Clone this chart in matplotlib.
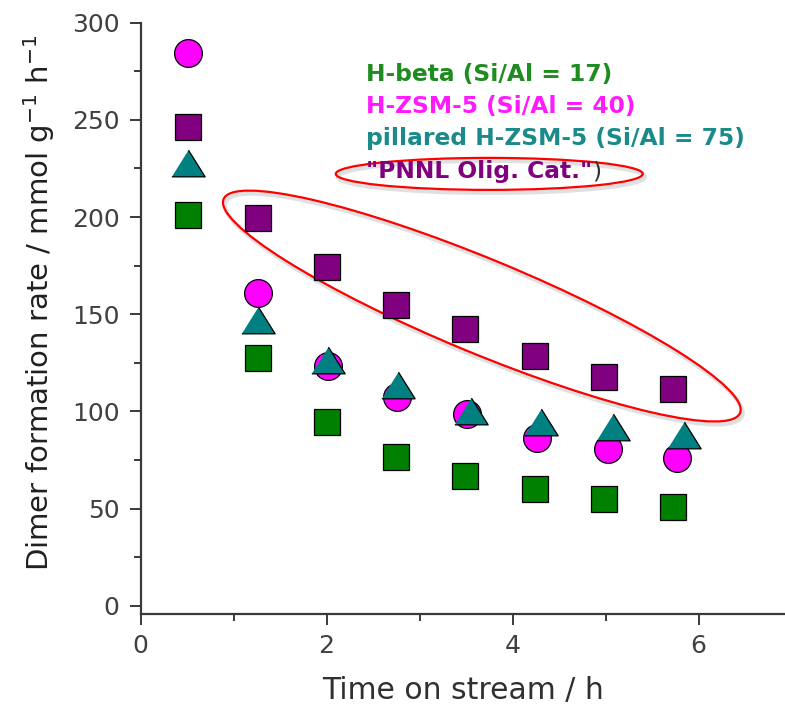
import matplotlib.pyplot as plt
import matplotlib.transforms as mtransforms
from matplotlib.patches import Ellipse
from matplotlib.ticker import MultipleLocator

# данные
t_beta = [0.51, 1.26, 2.00, 2.75, 3.49, 4.24, 4.98, 5.73]
r_beta = [201.1, 127.3, 94.4, 76.6, 66.9, 60.1, 54.9, 51.0]

t_zsm = [0.51, 1.26, 2.02, 2.76, 3.51, 4.26, 5.03, 5.77]
r_zsm = [284.3, 160.8, 123.4, 107.6, 98.7, 86.2, 80.6, 75.9]

t_pill = [0.51, 1.26, 2.02, 2.77, 3.55, 4.31, 5.08, 5.84]
r_pill = [227.7, 147.0, 126.3, 113.4, 100.3, 94.7, 92.0, 88.0]

t_pnnl = [0.51, 1.26, 2.00, 2.75, 3.49, 4.24, 4.98, 5.73]
r_pnnl = [246.5, 199.7, 174.2, 154.8, 142.4, 128.7, 117.6, 111.4]

labels = ['H-beta (Si/Al = 17)', 'H-ZSM-5 (Si/Al = 40)',
          'pillared H-ZSM-5 (Si/Al = 75)', '"PNNL Olig. Cat."']
text_colors = ['#1e8c1e', '#ff1aff', '#1a8a8a', '#800080']

fig = plt.figure(figsize=(7.85, 7.05), dpi=100)
ax = fig.add_axes([0.179, 0.1287, 0.821, 0.8391])

# широкий треугольник
tri = [(-1, -0.8), (1, -0.8), (0, 0.8)]
ax.plot(t_beta, r_beta, 's', ms=18.5, mfc='#008000', mec='black', mew=0.9, ls='none')
ax.plot(t_zsm, r_zsm, 'o', ms=20, mfc='#ff00ff', mec='black', mew=0.9, ls='none')
ax.plot(t_pill, r_pill, marker=tri, ms=24, mfc='#008080', mec='black', mew=0.9, ls='none')
ax.plot(t_pnnl, r_pnnl, 's', ms=18.5, mfc='#800080', mec='black', mew=0.9, ls='none')

ax.set_xlim(0, 6.93)
ax.set_ylim(-4.4, 300)
ax.xaxis.set_major_locator(MultipleLocator(2))
ax.xaxis.set_minor_locator(MultipleLocator(1))
ax.yaxis.set_major_locator(MultipleLocator(50))
ax.yaxis.set_minor_locator(MultipleLocator(25))

for s in ['top', 'right']:
    ax.spines[s].set_visible(False)
for s in ['left', 'bottom']:
    ax.spines[s].set_color('#3a3a3a')
    ax.spines[s].set_linewidth(1.6)

ax.tick_params(which='major', direction='out', length=8, width=1.4, color='#3a3a3a',
               labelsize=18, labelcolor='#404040', pad=6)
ax.tick_params(which='minor', direction='out', length=5, width=1.4, color='#3a3a3a')
ax.tick_params(axis='y', which='major', pad=7)

ax.set_xlabel('Time on stream / h', fontsize=21.5, color='#303030', labelpad=13)
ax.set_ylabel(r'Dimer formation rate / mmol g$^{\mathregular{-1}}$ h$^{\mathregular{-1}}$',
              fontsize=21, color='#202020')
ax.yaxis.set_label_coords(-0.129, 0.527)

# подписи серий
y_txt = [273.1, 256.7, 240.2, 223.3]
for lab, col, yy in zip(labels, text_colors, y_txt):
    t = ax.text(2.42, yy, lab, color=col, fontsize=16.8, fontweight='bold', va='center')
ax.annotate(')', xy=(1, 0.5), xycoords=t, va='center', ha='left',
            fontsize=16.8, color='#303030')


def ring(cx, cy, w, h, ang):
    # эллипс: размер в дюймах, центр в координатах данных
    tr = fig.dpi_scale_trans + mtransforms.ScaledTranslation(cx, cy, ax.transData)
    sh = tr + mtransforms.Affine2D().translate(2, -3)
    ax.add_patch(Ellipse((0, 0), w, h, angle=ang, fill=False, ec='#bbbbbb',
                         lw=3, alpha=0.45, transform=sh))
    ax.add_patch(Ellipse((0, 0), w, h, angle=ang, fill=False, ec='#ff0000',
                         lw=1.6, transform=tr))


ring(3.67, 154.2, 5.59, 0.94, -22.5)
ring(3.75, 222.2, 3.07, 0.32, 0)

plt.savefig('out.png', dpi=100)
